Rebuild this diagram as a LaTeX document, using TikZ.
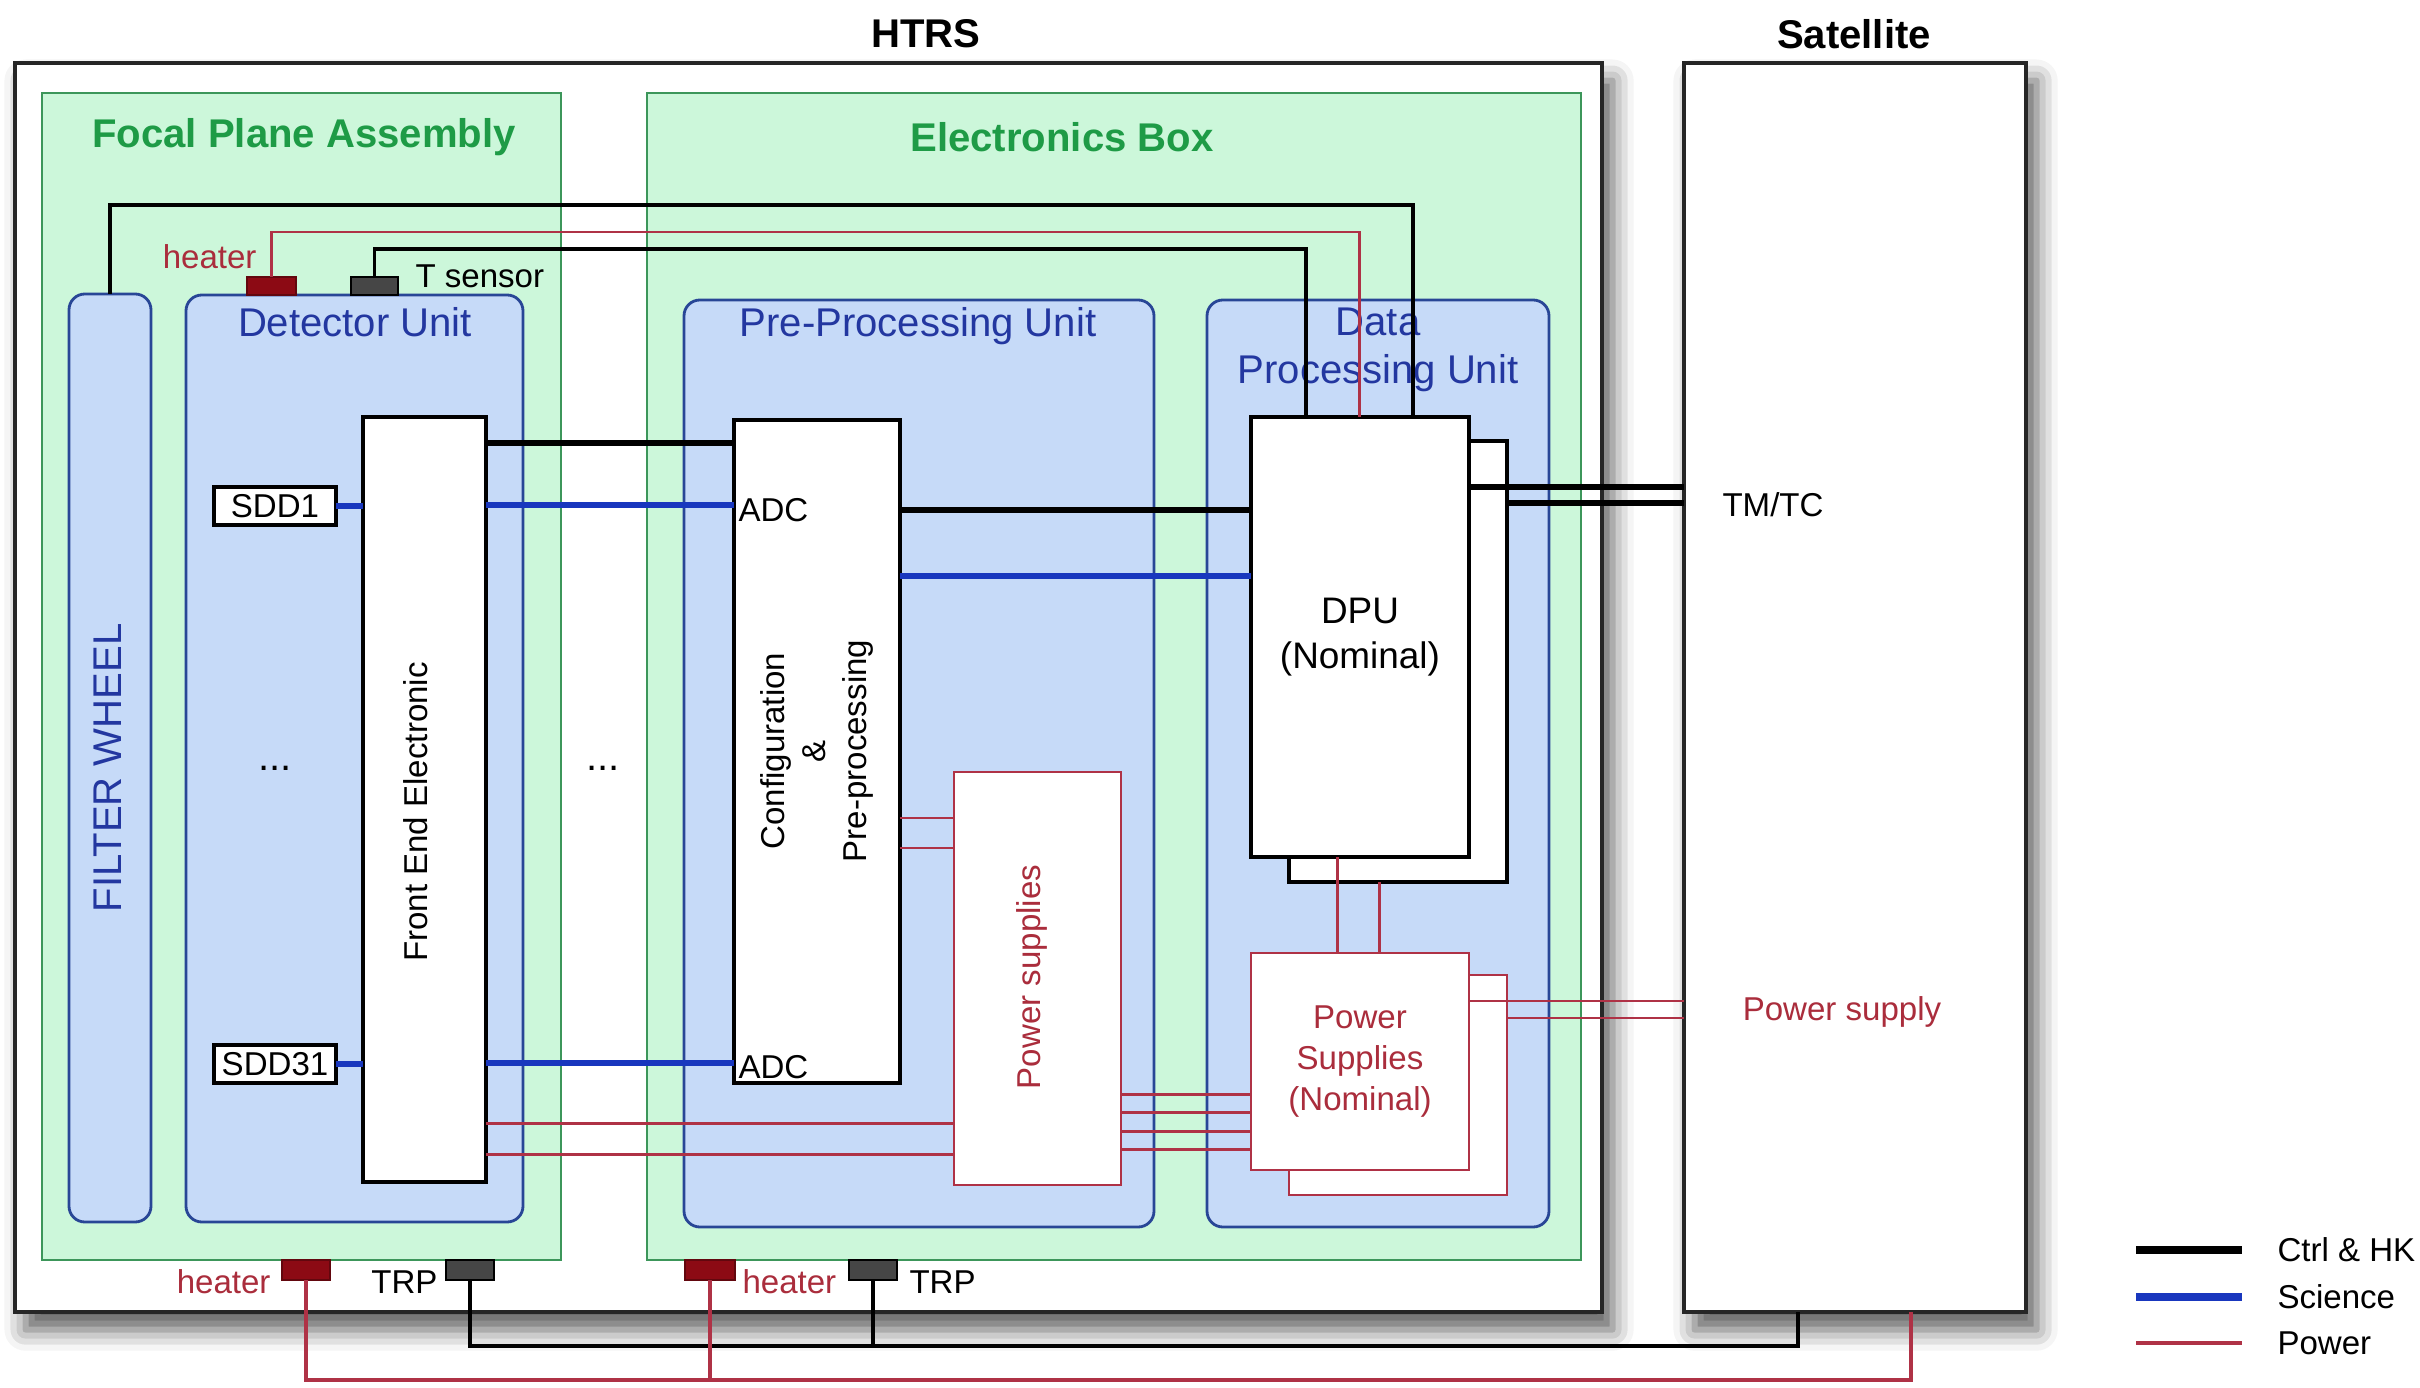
\documentclass[tikz,border=0pt]{standalone}
\usepackage{fontspec}
\setmainfont{Liberation Sans}
\usepackage{xcolor}
\usepackage{tikz}
\usetikzlibrary{positioning, calc, shadows.blur}

\definecolor{asmfill}{HTML}{CCF7DA}
\definecolor{asmline}{HTML}{3C965A}
\definecolor{asmtext}{HTML}{1E9B46}
\definecolor{unitfill}{HTML}{C6DAF8}
\definecolor{unitline}{HTML}{284696}
\definecolor{unittext}{HTML}{2337A0}
\definecolor{pwrred}{HTML}{AF3246}
\definecolor{pwrtext}{HTML}{AA2D3C}
\definecolor{heatred}{HTML}{8C0A14}
\definecolor{trpgray}{HTML}{464646}
\definecolor{sciblue}{HTML}{1937BE}

\newcommand{\bigfont}{\fontsize{11.4}{13.7}\selectfont}
\newcommand{\midfont}{\fontsize{10.5}{12.8}\selectfont}
\newcommand{\smallfont}{\fontsize{9.4}{11.6}\selectfont}

\begin{document}
\begin{tikzpicture}[x=0.01cm, y=-0.01cm,
  every node/.style={inner sep=1pt, outer sep=0pt, font=\smallfont},
  dims/.style 2 args={anchor=north west, minimum width=#1*0.01cm, minimum height=#2*0.01cm},
  outerbox/.style={draw=black!85, line width=1.3pt, fill=white,
    blur shadow={shadow xshift=3pt, shadow yshift=-5pt, shadow blur radius=6pt, shadow opacity=65}},
  asmbox/.style={draw=asmline, fill=asmfill, line width=0.7pt},
  unitbox/.style={draw=unitline, fill=unitfill, line width=0.8pt, rounded corners=4.5pt},
  blockbox/.style={draw=black, fill=white, line width=1pt},
  pwrbox/.style={draw=pwrred, fill=white, line width=0.8pt},
  heaterbox/.style={draw=heatred!70!black, fill=heatred, line width=0.5pt},
  sensorbox/.style={draw=black, fill=trpgray, line width=0.5pt},
  ctrl/.style={black, line width=1.8pt},
  ctrlthin/.style={black, line width=0.95pt},
  trpline/.style={black, line width=1.3pt},
  sci/.style={sciblue, line width=1.8pt},
  pwr/.style={pwrred, line width=0.85pt},
  pwrbot/.style={pwrred, line width=1.1pt}]

  \useasboundingbox (0,0) rectangle (2420,1388);

  % Outer boxes
  \node[outerbox, dims={1587}{1249}] (htrs) at (15,63) {};
  \node[outerbox, dims={342}{1249}] (sat) at (1684,63) {};
  \node[font=\bigfont\bfseries] (lblhtrs) at (926,34) {HTRS};
  \node[font=\bigfont\bfseries] (lblsat) at (1854,34) {Satellite};

  % Assemblies
  \node[asmbox, dims={519}{1167}] (fpa) at (42,93) {};
  \node[asmbox, dims={934}{1167}] (ebox) at (647,93) {};
  \node[font=\bigfont\bfseries, text=asmtext] (lblfpa) at (304,137) {Focal Plane Assembly};
  \node[font=\bigfont\bfseries, text=asmtext] (lblebox) at (1062,137) {Electronics Box};

  % Units
  \node[unitbox, dims={82}{928}] (fw) at (69,294) {};
  \node[unitbox, dims={337}{927}] (du) at (186,295) {};
  \node[unitbox, dims={470}{927}] (ppu) at (684,300) {};
  \node[unitbox, dims={342}{927}] (dpuu) at (1207,300) {};
  \node[font=\bigfont, text=unittext] (lbldu) at (355,322) {Detector Unit};
  \node[font=\bigfont, text=unittext] (lblppu) at (918,326) {Pre-Processing Unit};
  \node[font=\bigfont, text=unittext, align=center] (lbldpuu) at (1378,350) {Data\\Processing Unit};
  \node[font=\bigfont, text=unittext, rotate=90] (lblfw) at (108,768) {FILTER WHEEL};

  % Blocks
  \node[blockbox, dims={123}{765}] (fee) at (363,417) {};
  \node[blockbox, dims={166}{663}] (cfg) at (734,420) {};
  \node[pwrbox, dims={167}{413}] (pss) at (954,772) {};
  \node[blockbox, dims={218}{441}] (dpur) at (1289,441) {};
  \node[blockbox, dims={218}{440}, font=\midfont, align=center] (dpu) at (1251,417) {DPU\\(Nominal)};
  \node[pwrbox, dims={218}{220}] (psr) at (1289,975) {};
  \node[pwrbox, dims={218}{217}, text=pwrtext, align=center] (psn) at (1251,953) {Power\\Supplies\\(Nominal)};
  \node[blockbox, line width=0.9pt, dims={122}{38}] (sdda) at (214,487) {SDD1};
  \node[blockbox, line width=0.9pt, dims={122}{38}] (sddb) at (214,1045) {SDD31};

  % Sensors and heaters
  \node[heaterbox, dims={49}{18}] (htop) at (247,277) {};
  \node[sensorbox, dims={47}{18}] (tsens) at (351,277) {};
  \node[heaterbox, dims={48}{20}] (hta) at (282,1260) {};
  \node[sensorbox, dims={48}{20}] (trpa) at (446,1260) {};
  \node[heaterbox, dims={50}{20}] (htb) at (685,1260) {};
  \node[sensorbox, dims={48}{20}] (trpb) at (849,1260) {};

  % Top harness to the DPU
  \coordinate (fwbus) at (1413,205);
  \coordinate (htbus) at (1359,232);
  \coordinate (tsbus) at (1306,249);
  \draw[ctrlthin] (fw.north) |- (fwbus) -- (fwbus |- dpu.north);
  \draw[pwr] (htop.north) |- (htbus) -- (htbus |- dpu.north);
  \draw[ctrlthin] (tsens.north) |- (tsbus) -- (tsbus |- dpu.north);

  % Detector to pre-processing
  \draw[sci] (sdda.east) -- (sdda.east -| fee.west);
  \draw[sci] (sddb.east) -- (sddb.east -| fee.west);
  \draw[ctrl] (fee.east |- 0,443) -- (cfg.west |- 0,443);
  \draw[sci] (fee.east |- 0,505) -- (cfg.west |- 0,505);
  \draw[sci] (fee.east |- 0,1063) -- (cfg.west |- 0,1063);
  \draw[pwr] (fee.east |- 0,1123) -- (pss.west |- 0,1123);
  \draw[pwr] (fee.east |- 0,1154) -- (pss.west |- 0,1154);
  \draw[pwr] (cfg.east |- 0,818) -- (pss.west |- 0,818);
  \draw[pwr] (cfg.east |- 0,848) -- (pss.west |- 0,848);

  % Pre-processing to data processing
  \draw[ctrl] (cfg.east |- 0,510) -- (dpu.west |- 0,510);
  \draw[sci] (cfg.east |- 0,576) -- (dpu.west |- 0,576);
  \draw[pwr] (pss.east |- 0,1094) -- (psn.west |- 0,1094);
  \draw[pwr] (pss.east |- 0,1112) -- (psn.west |- 0,1112);
  \draw[pwr] (pss.east |- 0,1131) -- (psn.west |- 0,1131);
  \draw[pwr] (pss.east |- 0,1149) -- (psn.west |- 0,1149);
  \draw[pwr] (dpu.south -| 1337,0) -- (psn.north -| 1337,0);
  \draw[pwr] (dpur.south -| 1379,0) -- (psn.north -| 1379,0);

  % Data processing to satellite
  \draw[ctrl] (dpu.east |- 0,487) -- (sat.west |- 0,487);
  \draw[ctrl] (dpur.east |- 0,503) -- (sat.west |- 0,503);
  \draw[pwr] (psn.east |- 0,1001) -- (sat.west |- 0,1001);
  \draw[pwr] (psr.east |- 0,1018) -- (sat.west |- 0,1018);

  % Bottom harness to the satellite
  \coordinate (trpbus) at (1798,1346);
  \coordinate (htbusb) at (1911,1380);
  \draw[trpline] (trpa.south) |- (trpbus) -- (trpbus |- sat.south);
  \draw[trpline] (trpb.south) -- (trpb.south |- trpbus);
  \draw[pwrbot] (hta.south) |- (htbusb) -- (htbusb |- sat.south);
  \draw[pwrbot] (htb.south) -- (htb.south |- htbusb);

  % Labels
  \node[rotate=90] (lblfee) at (416,812) {Front End Electronic};
  \node[rotate=90, align=center] (lblcfg) at (817,751) {Configuration\\\&\\Pre-processing};
  \node[rotate=90, text=pwrtext] (lblpss) at (1032,977) {Power supplies};
  \node[anchor=west] (adca) at (735,510) {ADC};
  \node[anchor=west] (adcb) at (735,1067) {ADC};
  \node[font=\bigfont] (dotsa) at (275,768) {...};
  \node[font=\bigfont] (dotsb) at (603,768) {...};
  \node[anchor=west] (lbltmtc) at (1719,505) {TM/TC};
  \node[text=pwrtext] (lblpsup) at (1842,1012) {Power supply};
  \node[anchor=east, text=pwrtext] (lblhtop) at (260,257) {heater};
  \node[anchor=west] (lbltsens) at (412,276) {T sensor};
  \node[anchor=east, text=pwrtext] (lblhta) at (274,1282) {heater};
  \node[anchor=east] (lbltrpa) at (441,1282) {TRP};
  \node[anchor=west, text=pwrtext] (lblhtb) at (739,1282) {heater};
  \node[anchor=west] (lbltrpb) at (906,1282) {TRP};

  % Legend
  \draw[ctrl, line width=2pt] (2136,1250) -- (2242,1250);
  \draw[sci, line width=2pt] (2136,1297) -- (2242,1297);
  \draw[pwr, line width=0.9pt] (2136,1343) -- (2242,1343);
  \node[anchor=west] (lgctrl) at (2274,1250) {Ctrl \& HK};
  \node[anchor=west] (lgsci) at (2274,1297) {Science};
  \node[anchor=west] (lgpwr) at (2274,1343) {Power};

\end{tikzpicture}
\end{document}
